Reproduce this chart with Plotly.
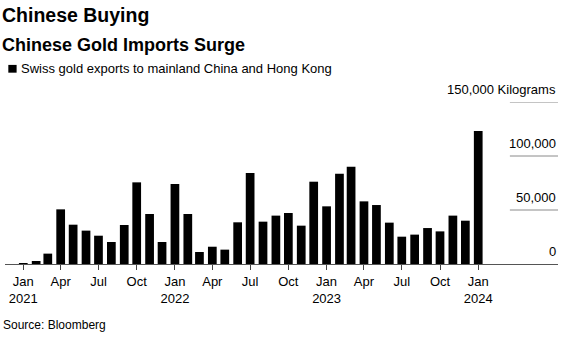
import plotly.graph_objects as go

months = [
    "2021-01-01", "2021-02-01", "2021-03-01", "2021-04-01", "2021-05-01", "2021-06-01",
    "2021-07-01", "2021-08-01", "2021-09-01", "2021-10-01", "2021-11-01", "2021-12-01",
    "2022-01-01", "2022-02-01", "2022-03-01", "2022-04-01", "2022-05-01", "2022-06-01",
    "2022-07-01", "2022-08-01", "2022-09-01", "2022-10-01", "2022-11-01", "2022-12-01",
    "2023-01-01", "2023-02-01", "2023-03-01", "2023-04-01", "2023-05-01", "2023-06-01",
    "2023-07-01", "2023-08-01", "2023-09-01", "2023-10-01", "2023-11-01", "2023-12-01",
    "2024-01-01",
]
exports_kg = [
    800, 2800, 9600, 50600, 36400, 30900,
    26200, 20400, 36100, 75600, 46300, 20400,
    74100, 46300, 11100, 16000, 13300, 38600,
    84300, 39200, 44800, 47200, 35500, 76200,
    53400, 83600, 90100, 58000, 54600, 38300,
    25300, 27200, 33300, 30200, 44800, 40100,
    123100,
]
tick_dates = [
    "2021-01-01", "2021-04-01", "2021-07-01", "2021-10-01",
    "2022-01-01", "2022-04-01", "2022-07-01", "2022-10-01",
    "2023-01-01", "2023-04-01", "2023-07-01", "2023-10-01",
    "2024-01-01",
]
tick_labels = [
    "Jan<br>2021", "Apr", "Jul", "Oct",
    "Jan<br>2022", "Apr", "Jul", "Oct",
    "Jan<br>2023", "Apr", "Jul", "Oct",
    "Jan<br>2024",
]
y_ticks = [0, 50000, 100000, 150000]
y_labels = ["0", "50,000", "100,000", "150,000 Kilograms"]
series_name = "Swiss gold exports to mainland China and Hong Kong"

FONT = "Liberation Sans, Arial, sans-serif"
DAY_MS = 86400000

fig = go.Figure()
fig.add_trace(go.Bar(
    x=months, y=exports_kg,
    marker=dict(color="#000000", line=dict(width=0)),
    width=[21 * DAY_MS] * len(months),
    name=series_name,
    showlegend=False,
))

annotations = []
# short gridlines on the right plus labels above them
for v, lab in zip(y_ticks, y_labels):
    if v != 0:
        fig.add_shape(type="line", xref="paper", yref="y",
                      x0=0.913, x1=1.0, y0=v, y1=v,
                      line=dict(color="#8a8a8a", width=1))
    annotations.append(dict(xref="paper", yref="y", x=1.0, y=v, text=lab,
                            showarrow=False, xanchor="right", yanchor="bottom",
                            yshift=3, font=dict(family=FONT, size=13, color="#000")))

# legend swatch
fig.add_shape(type="rect", xref="paper", yref="paper",
              x0=0.006, x1=0.021, y0=1.181, y1=1.229,
              fillcolor="#000", line=dict(width=0))

annotations += [
    dict(xref="paper", yref="paper", x=0, xanchor="left", xshift=-5,
         y=1, yanchor="bottom", yshift=102 - 28, showarrow=False,
         text="<b>Chinese Buying</b>",
         font=dict(family=FONT, size=19.5, color="#000")),
    dict(xref="paper", yref="paper", x=0, xanchor="left", xshift=-5,
         y=1, yanchor="bottom", yshift=102 - 57, showarrow=False,
         text="<b>Chinese Gold Imports Surge</b>",
         font=dict(family=FONT, size=18, color="#000")),
    dict(xref="paper", yref="paper", x=0, xanchor="left", xshift=14,
         y=1, yanchor="bottom", yshift=102 - 78, showarrow=False,
         text=series_name,
         font=dict(family=FONT, size=13, color="#000")),
    dict(xref="paper", yref="paper", x=0, xanchor="left", xshift=-4,
         y=0, yanchor="top", yshift=-52, showarrow=False,
         text="Source: Bloomberg",
         font=dict(family=FONT, size=12, color="#000")),
]

fig.update_layout(
    width=574, height=345,
    margin=dict(l=5, r=16, t=102, b=81),
    paper_bgcolor="white", plot_bgcolor="white",
    font=dict(family=FONT, color="#000"),
    xaxis=dict(
        type="date",
        range=["2020-11-18", "2024-07-11"],
        tickvals=tick_dates, ticktext=tick_labels,
        ticks="outside", ticklen=5, tickcolor="#444", tickwidth=1,
        showline=True, linecolor="#555", linewidth=1,
        showgrid=False, zeroline=False,
        tickfont=dict(family=FONT, size=13, color="#000"),
    ),
    yaxis=dict(
        range=[0, 150000], showticklabels=False, showgrid=False,
        zeroline=False, showline=False, fixedrange=True,
    ),
    annotations=annotations,
)

fig.write_html("out.html")
